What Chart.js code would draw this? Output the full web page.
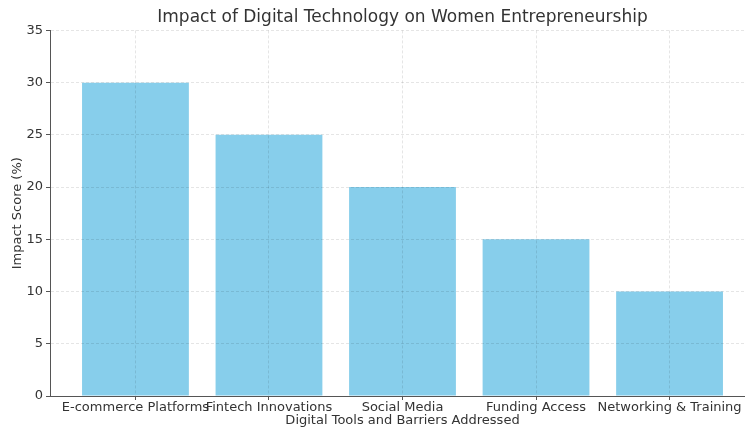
<!DOCTYPE html>
<html>
<head>
<meta charset="utf-8">
<script src="https://cdn.jsdelivr.net/npm/chart.js@4/dist/chart.umd.min.js"></script>
<style>
    html, body { margin: 0; padding: 0; background: #fff; overflow: hidden; }
    #wrap { width: 805px; height: 428px; }
</style>
</head>
<body>
<div id="wrap"><canvas id="impactChart"></canvas></div>
<script>
// Impact scores per digital tool / barrier
const categories = ['E-commerce Platforms', 'Fintech Innovations', 'Social Media', 'Funding Access', 'Networking & Training'];
const impactScores = [30, 25, 20, 15, 10];
const yTicks = [0, 5, 10, 15, 20, 25, 30, 35];

const textColor = '#333';
const gridColor = 'rgba(0, 0, 0, 0.10)';
const spineColor = '#555';

Chart.defaults.font.family = '"DejaVu Sans", Verdana, sans-serif';
Chart.defaults.color = textColor;

const ctx = document.getElementById('impactChart').getContext('2d');

new Chart(ctx, {
    type: 'bar',
    data: {
        datasets: [{
            label: 'Impact Score (%)',
            data: impactScores.map((v, i) => ({ x: i, y: v })),
            backgroundColor: '#87CEEB',
            borderWidth: 0,
            barPercentage: 0.8,
            categoryPercentage: 1,
        }],
    },
    options: {
        responsive: true,
        maintainAspectRatio: false,
        animation: false,
        layout: { padding: { left: 0, right: 50, top: 0, bottom: 0 } },
        plugins: {
            legend: { display: false },
            tooltip: { enabled: false },
            title: {
                display: true,
                fullSize: false, // centre over the plot area, not the canvas
                text: 'Impact of Digital Technology on Women Entrepreneurship',
                color: textColor,
                font: { size: 17, weight: 'normal' },
                padding: { top: 7, bottom: 3 },
            },
        },
        scales: {
            x: {
                type: 'linear',
                min: -0.64,
                max: categories.length - 1 + 0.64,
                offset: false,
                afterBuildTicks: (scale) => {
                    scale.ticks = categories.map((_, i) => ({ value: i }));
                },
                afterFit: (scale) => { scale.height = 32; },
                ticks: {
                    autoSkip: false,
                    maxRotation: 0,
                    padding: 0,
                    font: { size: 13 },
                    color: textColor,
                    callback: (v) => categories[v],
                },
                grid: {
                    offset: false,
                    z: 1, // grid sits over the bars
                    color: gridColor,
                    tickColor: spineColor,
                    tickLength: 4,
                    tickBorderDash: [],
                },
                border: { display: true, color: spineColor, width: 1, dash: [3, 2], z: 2 },
                title: {
                    display: true,
                    text: 'Digital Tools and Barriers Addressed',
                    font: { size: 13 },
                    color: textColor,
                    padding: { top: 0, bottom: 0 },
                },
            },
            y: {
                min: 0,
                max: 35,
                afterBuildTicks: (scale) => {
                    scale.ticks = yTicks.map((v) => ({ value: v }));
                },
                afterFit: (scale) => { scale.width = 50; },
                ticks: {
                    padding: 3,
                    font: { size: 13 },
                    color: textColor,
                },
                grid: {
                    z: 1,
                    color: gridColor,
                    tickColor: spineColor,
                    tickLength: 4,
                    tickBorderDash: [],
                },
                border: { display: true, color: spineColor, width: 1, dash: [3, 2], z: 2 },
                title: {
                    display: true,
                    text: 'Impact Score (%)',
                    font: { size: 13 },
                    color: textColor,
                    padding: { top: 10, bottom: 0 },
                },
            },
        },
    },
});
</script>
</body>
</html>
